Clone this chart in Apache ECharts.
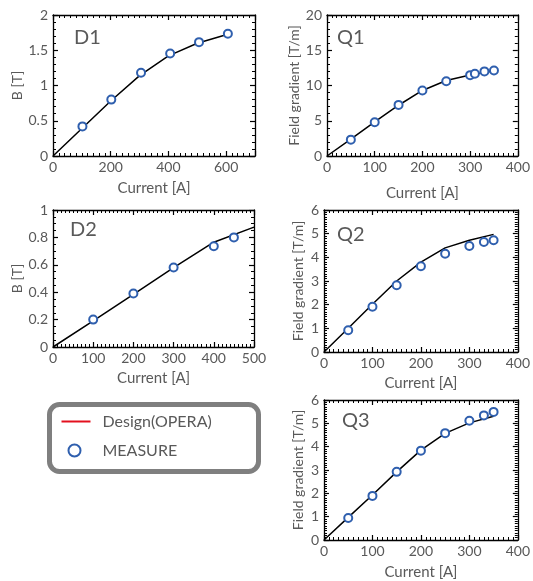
<!DOCTYPE html>
<html>
<head>
<meta charset="utf-8">
<script src="https://cdn.jsdelivr.net/npm/echarts@6/dist/echarts.min.js"></script>
<style>
  html, body { margin: 0; padding: 0; background: #fff; }
  #chart { width: 533px; height: 581px; }
</style>
</head>
<body>
<div id="chart"></div>
<script>
// D1 dipole: excitation curve
const d1DesignI = [0, 100, 200, 300, 400, 500, 600];
const d1DesignB = [0, 0.39, 0.78, 1.14, 1.42, 1.60, 1.72];
const d1MeasI = [102, 202, 305, 406, 506, 606];
const d1MeasB = [0.42, 0.80, 1.18, 1.455, 1.615, 1.735];

// Q1 quadrupole
const q1DesignI = [0, 50, 100, 150, 200, 250, 300, 350];
const q1DesignG = [0, 2.4, 4.85, 7.2, 9.3, 10.7, 11.5, 12.1];
const q1MeasI = [50, 100, 150, 200, 250, 300, 310, 330, 350];
const q1MeasG = [2.32, 4.79, 7.25, 9.29, 10.6, 11.47, 11.66, 12.0, 12.13];

// D2 dipole
const d2DesignI = [0, 100, 200, 300, 400, 500];
const d2DesignB = [0, 0.19, 0.385, 0.58, 0.765, 0.875];
const d2MeasI = [100, 200, 300, 400, 450];
const d2MeasB = [0.20, 0.39, 0.58, 0.735, 0.80];

// Q2 quadrupole
const q2DesignI = [0, 50, 100, 150, 200, 250, 300, 350];
const q2DesignG = [0, 1.0, 2.02, 3.0, 3.8, 4.4, 4.72, 4.97];
const q2MeasI = [50, 100, 150, 200, 250, 300, 330, 350];
const q2MeasG = [0.92, 1.91, 2.82, 3.62, 4.15, 4.48, 4.65, 4.72];

// Q3 quadrupole
const q3DesignI = [0, 50, 100, 150, 200, 250, 300, 350];
const q3DesignG = [0, 0.97, 1.93, 2.92, 3.85, 4.57, 5.02, 5.30];
const q3MeasI = [50, 100, 150, 200, 250, 300, 330, 350];
const q3MeasG = [0.94, 1.89, 2.92, 3.83, 4.58, 5.11, 5.34, 5.49];

const legendLabels = ['Design(OPERA)', 'MEASURE'];
const xName = 'Current [A]';

const FONT = 'Lato, "Open Sans", sans-serif';
const TEXT = '#595959';
const MEAS = '#2f5fae';

const zip = (a, b) => a.map((v, i) => [v, b[i]]);

const panels = [
  { name: 'D1', grid: [53, 15, 202, 141], x: [0, 700, 200, 10], y: [0, 2, 0.5, 5],
    yName: 'B [T]', yGap: 18, xGap: 25, titlePos: [69, 23],
    design: zip(d1DesignI, d1DesignB), meas: zip(d1MeasI, d1MeasB), hideMaxX: true },
  { name: 'Q1', grid: [327, 15, 200, 141], x: [0, 400, 100, 10], y: [0, 20, 5, 5],
    yName: 'Field gradient [T/m]', yGap: 23, xGap: 30, titlePos: [332, 23],
    design: zip(q1DesignI, q1DesignG), meas: zip(q1MeasI, q1MeasG) },
  { name: 'D2', grid: [53, 210, 201, 137], x: [0, 500, 100, 10], y: [0, 1, 0.2, 4],
    yName: 'B [T]', yGap: 18, xGap: 24, titlePos: [65, 215],
    design: zip(d2DesignI, d2DesignB), meas: zip(d2MeasI, d2MeasB) },
  { name: 'Q2', grid: [324, 210, 200, 142], x: [0, 400, 100, 10], y: [0, 6, 1, 10],
    yName: 'Field gradient [T/m]', yGap: 19, xGap: 24, titlePos: [332, 220],
    design: zip(q2DesignI, q2DesignG), meas: zip(q2MeasI, q2MeasG) },
  { name: 'Q3', grid: [324, 400, 200, 140], x: [0, 400, 100, 10], y: [0, 6, 1, 10],
    yName: 'Field gradient [T/m]', yGap: 19, xGap: 25, titlePos: [337, 406],
    design: zip(q3DesignI, q3DesignG), meas: zip(q3MeasI, q3MeasG) }
];

const grid = [], xAxis = [], yAxis = [], series = [], title = [];

// inward minor ticks on every side of each frame
function minor(split) {
  return { show: true, splitNumber: split, length: 3, lineStyle: { color: '#000', width: 1 } };
}

function frameAxis(extra) {
  return Object.assign({
    type: 'value',
    axisLine: { show: true, onZero: false, lineStyle: { color: '#000', width: 1.3 } },
    axisTick: { show: true, inside: true, length: 5, lineStyle: { color: '#000', width: 1.2 } },
    splitLine: { show: false },
    minorSplitLine: { show: false }
  }, extra);
}

panels.forEach((p, i) => {
  grid.push({ left: p.grid[0], top: p.grid[1], width: p.grid[2], height: p.grid[3], containLabel: false });
  title.push({
    text: p.name, left: p.titlePos[0], top: p.titlePos[1],
    textStyle: { fontFamily: FONT, fontSize: 20, fontWeight: 'normal', color: TEXT }
  });
  const labelStyle = { color: TEXT, fontFamily: FONT, fontSize: 14 };
  const xi = xAxis.length, yi = yAxis.length;
  xAxis.push(frameAxis({
    gridIndex: i, position: 'bottom', min: p.x[0], max: p.x[1], interval: p.x[2],
    minorTick: minor(p.x[3]),
    name: xName, nameLocation: 'middle', nameGap: p.xGap,
    nameTextStyle: { color: TEXT, fontFamily: FONT, fontSize: 15 },
    axisLabel: Object.assign({ margin: 4, showMaxLabel: !p.hideMaxX }, labelStyle)
  }));
  xAxis.push(frameAxis({
    gridIndex: i, position: 'top', min: p.x[0], max: p.x[1], interval: p.x[2],
    minorTick: minor(p.x[3]), axisLabel: { show: false }
  }));
  yAxis.push(frameAxis({
    gridIndex: i, position: 'left', min: p.y[0], max: p.y[1], interval: p.y[2],
    minorTick: minor(p.y[3]),
    name: p.yName, nameLocation: 'middle', nameGap: p.yGap, nameRotate: 90,
    nameTextStyle: { color: TEXT, fontFamily: FONT, fontSize: 14 },
    axisLabel: Object.assign({ margin: 5 }, labelStyle)
  }));
  yAxis.push(frameAxis({
    gridIndex: i, position: 'right', min: p.y[0], max: p.y[1], interval: p.y[2],
    minorTick: minor(p.y[3]), axisLabel: { show: false }
  }));
  series.push({
    name: legendLabels[0], type: 'line', xAxisIndex: xi, yAxisIndex: yi,
    data: p.design, showSymbol: false, symbol: 'none', smooth: false,
    lineStyle: { color: '#000', width: 1.5 }, silent: true, z: 2
  });
  series.push({
    name: legendLabels[1], type: 'scatter', xAxisIndex: xi, yAxisIndex: yi,
    data: p.meas, symbol: 'emptyCircle', symbolSize: 8,
    itemStyle: { color: MEAS, borderColor: MEAS, borderWidth: 1.8, opacity: 1 },
    silent: true, z: 3
  });
});

const legendGraphic = {
  type: 'group', left: 47, top: 402,
  children: [
    { type: 'rect', shape: { x: 0, y: 0, width: 209, height: 67, r: 10 },
      style: { fill: '#fff', stroke: '#7f7f7f', lineWidth: 5 } },
    { type: 'line', shape: { x1: 12, y1: 17, x2: 41, y2: 17 },
      style: { stroke: '#e3101e', lineWidth: 2 } },
    { type: 'text', x: 53, y: 17,
      style: { text: legendLabels[0], fill: TEXT, font: '16px ' + FONT, verticalAlign: 'middle' } },
    { type: 'circle', shape: { cx: 25, cy: 46, r: 6 },
      style: { fill: '#fff', stroke: MEAS, lineWidth: 2 } },
    { type: 'text', x: 53, y: 46,
      style: { text: legendLabels[1], fill: TEXT, font: '16px ' + FONT, verticalAlign: 'middle' } }
  ]
};

const chart = echarts.init(document.getElementById('chart'), null, { renderer: 'canvas' });
chart.setOption({
  animation: false,
  backgroundColor: '#fff',
  title, grid, xAxis, yAxis, series,
  graphic: [legendGraphic]
});
</script>
</body>
</html>
